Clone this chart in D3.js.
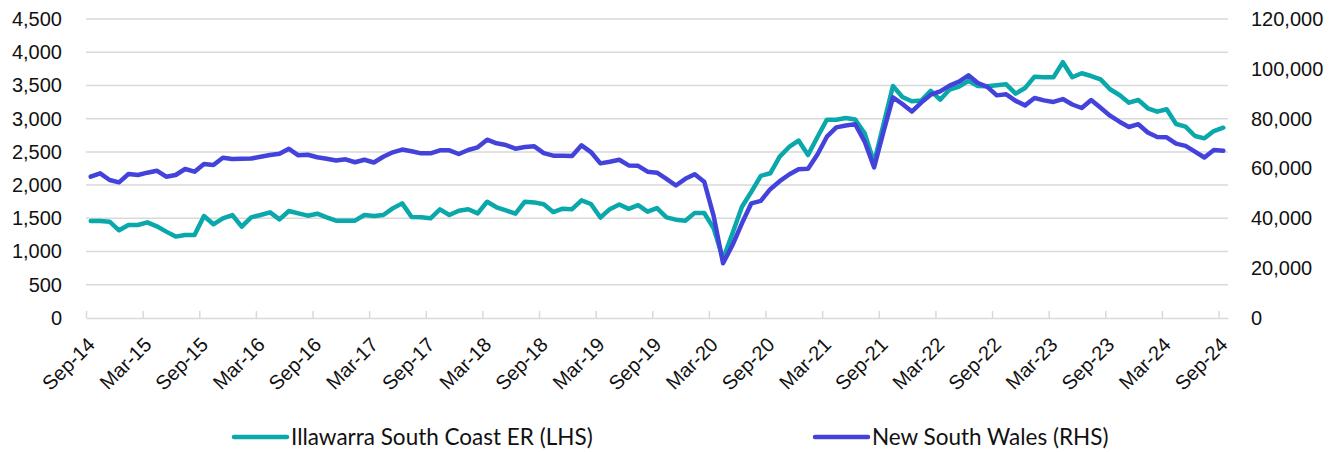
<!DOCTYPE html>
<html>
<head>
<meta charset="utf-8">
<script src="https://cdn.jsdelivr.net/npm/d3@7"></script>
<style>
  body { margin: 0; background: #fff; }
  svg { display: block; font-family: Lato, sans-serif; }
  .grid line { stroke: #d9d9d9; stroke-width: 1.5; }
  .axis path, .axis line { stroke: #d9d9d9; stroke-width: 1.5; }
  .axis text, .ylab text { fill: #111; font-size: 20px; }
  .legend text { fill: #111; font-size: 22.5px; }
</style>
</head>
<body>
<svg id="chart" width="1343" height="452"></svg>
<script>
// Monthly, Sep-14 .. Sep-24
const months = d3.timeMonths(new Date(2014, 8, 1), new Date(2024, 9, 1)).map(d3.timeFormat('%b-%y'));

// Illawarra South Coast ER (LHS)
const illawarra = [
  1460, 1460, 1450, 1320, 1400, 1400, 1440, 1380, 1300, 1225, 1250, 1250,
  1535, 1410, 1500, 1550, 1375, 1515, 1550, 1590, 1485, 1610, 1575, 1540,
  1570, 1515, 1465, 1465, 1465, 1550, 1535, 1550, 1650, 1725, 1520, 1515,
  1500, 1635, 1550, 1615, 1636, 1575, 1750, 1666, 1620, 1570, 1750, 1740,
  1712, 1595, 1645, 1638, 1770, 1716, 1512, 1638, 1708, 1643, 1698, 1600,
  1655, 1515, 1480, 1465, 1582, 1580, 1350, 890, 1275, 1675, 1900, 2140,
  2178, 2428, 2574, 2670, 2453, 2724, 2985, 2985, 3010, 2988, 2780, 2340,
  2915, 3492, 3326, 3263, 3273, 3418, 3286, 3438, 3482, 3570, 3490, 3487,
  3502, 3517, 3376, 3462, 3632, 3622, 3622, 3850, 3624, 3683, 3642, 3592,
  3442, 3356, 3241, 3281, 3156, 3105, 3141, 2920, 2879, 2739, 2704, 2814,
  2864
];

// New South Wales (RHS)
const nsw = [
  56700, 58060, 55380, 54450, 57790, 57390, 58320, 59120, 56700, 57390, 59790, 58720,
  61800, 61400, 64330, 63800, 63930, 64000, 64730, 65400, 65900, 67900, 65300, 65500,
  64500, 63900, 63200, 63670, 62500, 63500, 62400, 64730, 66500, 67600, 66900, 66090,
  66090, 67300, 67300, 65810, 67420, 68490, 71550, 70100, 69420, 67950, 68600, 68900,
  66200, 65140, 65140, 65010, 69300, 66600, 62050, 62700, 63500, 61250, 61060, 58720,
  58320, 55850, 53170, 55850, 57720, 54710, 41000, 21950, 29300, 38000, 46030, 47000,
  51700, 54900, 57600, 59700, 59900, 65600, 72760, 76520, 77250, 77800, 70800, 60470,
  74800, 88560, 85880, 82870, 86480, 89620, 90960, 93240, 94840, 97380, 94300, 92760,
  89350, 89760, 87150, 85340, 88300, 87350, 86700, 87880, 85680, 84280, 87480, 84350,
  81200, 78790, 76650, 77780, 74440, 72630, 72500, 69960, 69080, 66740, 64400, 67420,
  67140
];

const leftTicks = [0, 500, 1000, 1500, 2000, 2500, 3000, 3500, 4000, 4500];
const rightTicks = [0, 20000, 40000, 60000, 80000, 100000, 120000];
const labelEvery = 6;

const series = [
  {name: 'Illawarra South Coast ER (LHS)', values: illawarra, side: 'left', color: '#0aa8aa'},
  {name: 'New South Wales (RHS)', values: nsw, side: 'right', color: '#4343dc'}
];

const svg = d3.select('#chart');
const plot = {left: 86, right: 1228, top: 19, bottom: 318};

const x = d3.scaleBand().domain(d3.range(months.length)).range([plot.left, plot.right]).padding(0);
const xEdge = d3.scaleLinear().domain([0, months.length]).range([plot.left, plot.right]);
const yL = d3.scaleLinear().domain([0, 4500]).range([plot.bottom, plot.top]);
const yR = d3.scaleLinear().domain([0, 120000]).range([plot.bottom, plot.top]);

// Gridlines
svg.append('g').attr('class', 'grid').
  selectAll('line').data(leftTicks.filter((d) => d > 0)).join('line').
    attr('x1', plot.left).attr('x2', plot.right).
    attr('y1', (d) => yL(d)).attr('y2', (d) => yL(d));

// Left / right value labels
svg.append('g').attr('class', 'ylab').
  attr('transform', `translate(${plot.left - 24},0)`).
  call(d3.axisLeft(yL).tickValues(leftTicks).tickFormat(d3.format(',')).tickSize(0).tickPadding(0)).
  call((g) => g.select('.domain').remove());
svg.append('g').attr('class', 'ylab').
  attr('transform', `translate(${plot.right + 23},0)`).
  call(d3.axisRight(yR).tickValues(rightTicks).tickFormat(d3.format(',')).tickSize(0).tickPadding(0)).
  call((g) => g.select('.domain').remove());

// Category axis, ticks at category boundaries, pointing up
const tickIdx = d3.range(0, months.length, labelEvery);
const xAxis = svg.append('g').attr('class', 'axis').
  attr('transform', `translate(0,${plot.bottom})`).
  call(d3.axisBottom(xEdge).tickValues(tickIdx).tickSizeInner(-7).tickSizeOuter(0).
    tickFormat((i) => months[i]));
xAxis.selectAll('.tick text').
  attr('y', 0).attr('dy', 0).
  attr('text-anchor', 'end').
  attr('transform', `translate(${x.bandwidth() / 2 + 5},28) rotate(-45)`);

// Lines
const line = (s) => d3.line().
  x((d, i) => x(i) + x.bandwidth() / 2).
  y((d) => (s.side === 'left' ? yL : yR)(d));

svg.append('g').selectAll('path').data(series).join('path').
  attr('fill', 'none').
  attr('stroke', (s) => s.color).
  attr('stroke-width', 4.5).
  attr('stroke-linejoin', 'round').
  attr('stroke-linecap', 'round').
  attr('d', (s) => line(s)(s.values));

// Legend
const legendX = [234, 815];
const legend = svg.append('g').attr('class', 'legend').
  selectAll('g').data(series).join('g').
    attr('transform', (s, i) => `translate(${legendX[i]},437)`);
legend.append('line').
  attr('x1', 0).attr('x2', 53).
  attr('stroke', (s) => s.color).attr('stroke-width', 4.5).attr('stroke-linecap', 'round');
legend.append('text').
  attr('x', 57).attr('dy', '0.35em').
  text((s) => s.name);
</script>
</body>
</html>
